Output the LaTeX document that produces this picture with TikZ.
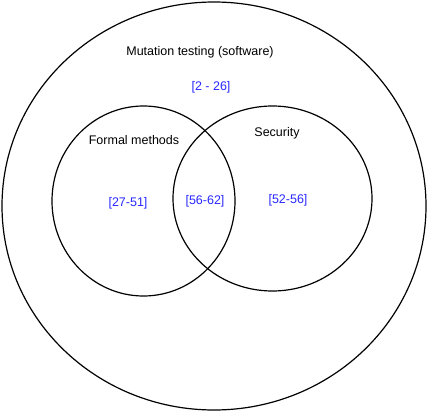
\documentclass[tikz,border=0pt]{standalone}
\usepackage{fontspec}
\setmainfont{Liberation Sans}
\usetikzlibrary{shapes.geometric, positioning}
\definecolor{rangeblue}{RGB}{40,40,255}

\begin{document}
\begin{tikzpicture}[
            x=1pt, y=-1pt,
            area/.style={ellipse, draw, line width=1.2pt, inner sep=0pt},
            setname/.style={font=\fontsize{12.5}{14}\selectfont, text=black},
            rangetext/.style={font=\fontsize{12.5}{14}\selectfont, text=rangeblue}
        ]
        \useasboundingbox (0,0) rectangle (430,414);

        % Outer set
        \node[area, minimum width=424pt, minimum height=408pt] (mutation) at (214,206) {};
        % Left set
        \node[area, minimum width=183pt, minimum height=190pt] (formal) at (143.5,201) {};
        % Right set
        \node[area, minimum width=199pt, minimum height=185pt] (security) at (272.5,198.5) {};

        % Set names
        \node[setname] (mutationlabel) at (200,52) {Mutation testing (software)};
        \node[setname] (formallabel) at (134,140) {Formal methods};
        \node[setname] (securitylabel) at (277,133) {Security};

        % Ranges
        \node[rangetext] (mutationrange) at (211,87) {[2 - 26]};
        \node[rangetext] (formalrange) at (128,203) {[27-51]};
        \node[rangetext] (bothrange) at (205,201) {[56-62]};
        \node[rangetext] (securityrange) at (288,200) {[52-56]};
    \end{tikzpicture}
\end{document}
